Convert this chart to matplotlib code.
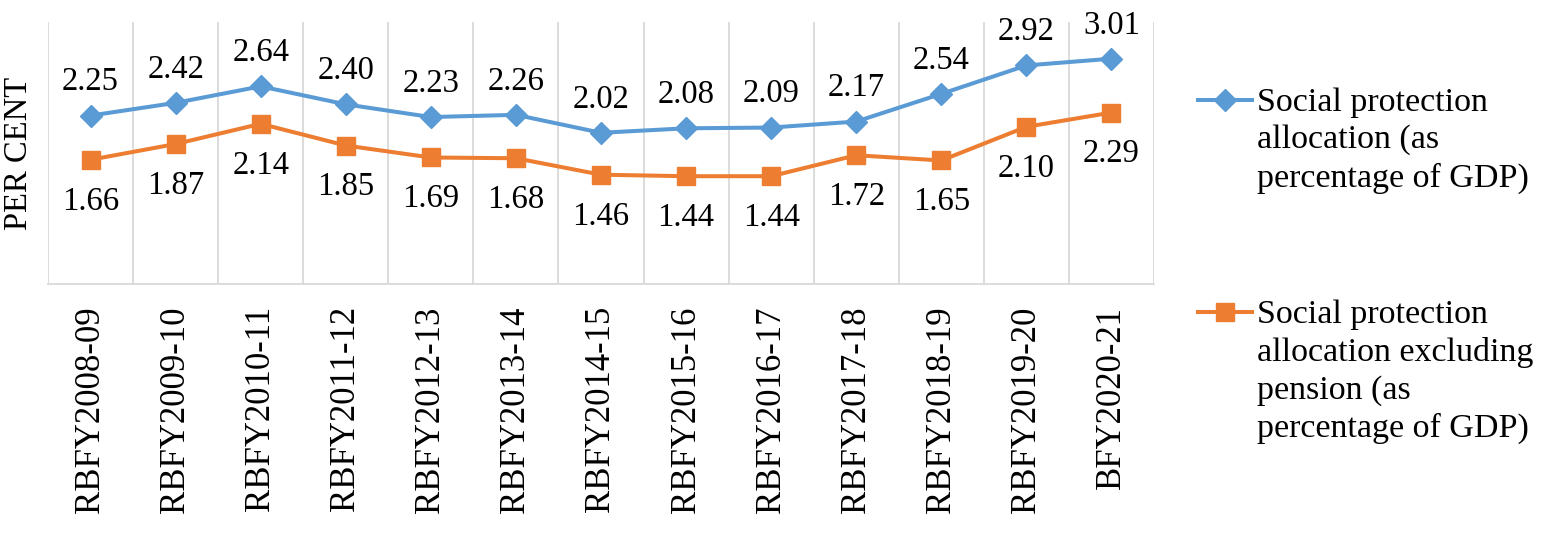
import matplotlib
matplotlib.use("Agg")
from matplotlib import pyplot as plt
from matplotlib.lines import Line2D
import numpy as np

years = ['RBFY2008-09', 'RBFY2009-10', 'RBFY2010-11', 'RBFY2011-12', 'RBFY2012-13',
         'RBFY2013-14', 'RBFY2014-15', 'RBFY2015-16', 'RBFY2016-17', 'RBFY2017-18',
         'RBFY2018-19', 'RBFY2019-20', 'BFY2020-21']
total = [2.25, 2.42, 2.64, 2.40, 2.23, 2.26, 2.02, 2.08, 2.09, 2.17, 2.54, 2.92, 3.01]
excl_pension = [1.66, 1.87, 2.14, 1.85, 1.69, 1.68, 1.46, 1.44, 1.44, 1.72, 1.65, 2.10, 2.29]

label_total = 'Social protection\nallocation (as\npercentage of GDP)'
label_excl = 'Social protection\nallocation excluding\npension (as\npercentage of GDP)'

blue = '#5B9BD5'
orange = '#ED7D31'
W, H = 1544, 546

plt.rcParams['font.family'] = 'Liberation Serif'

fig = plt.figure(figsize=(W / 100, H / 100), dpi=100)
ax = fig.add_axes([48 / W, 1 - 284 / H, (1154 - 48) / W, (284 - 22) / H])

x = np.arange(len(years))
ax.plot(x, total, color=blue, lw=2.9, marker='D', markersize=11)
ax.plot(x, excl_pension, color=orange, lw=2.9, marker='s', markersize=12.5)

# data labels: blue above, orange below
for xi, v in zip(x, total):
    ax.annotate(f'{v:.2f}', (xi, v), xytext=(0, 24), textcoords='offset points',
                ha='center', va='center', fontsize=23.5)
for xi, v in zip(x, excl_pension):
    ax.annotate(f'{v:.2f}', (xi, v), xytext=(0, -30), textcoords='offset points',
                ha='center', va='center', fontsize=23.5)

ax.set_xlim(-0.5, len(years) - 0.5)
ax.set_ylim(0, 3.5)
ax.set_xticks(x)
ax.set_xticklabels(years, rotation=90, fontsize=25, va='top')
ax.set_xticks(np.arange(-0.5, len(years)), minor=True)
ax.grid(True, axis='x', which='minor', color='#D9D9D9', lw=1.3)
ax.tick_params(axis='x', which='both', length=0, pad=16)
ax.set_yticks([])
for s in ['top', 'left', 'right']:
    ax.spines[s].set_visible(False)
ax.spines['bottom'].set_color('#D9D9D9')
ax.spines['bottom'].set_linewidth(1.3)
ax.set_ylabel('PER CENT', fontsize=23.5, labelpad=10)

# legend, handle lined up with first line of each label
for y_mid, col, mk, ms, lab in [(100, blue, 'D', 11, label_total),
                                (312, orange, 's', 12.5, label_excl)]:
    fig.add_artist(Line2D([1198 / W, 1252 / W], [1 - y_mid / H] * 2, color=col, lw=2.9))
    fig.add_artist(Line2D([1225 / W], [1 - y_mid / H], color=col, marker=mk,
                          markersize=ms, lw=0))
    fig.text(1257 / W, 1 - (y_mid - 13) / H, lab, fontsize=24.5, ha='left', va='top',
             linespacing=1.3)

fig.savefig('out.png', dpi=100)
